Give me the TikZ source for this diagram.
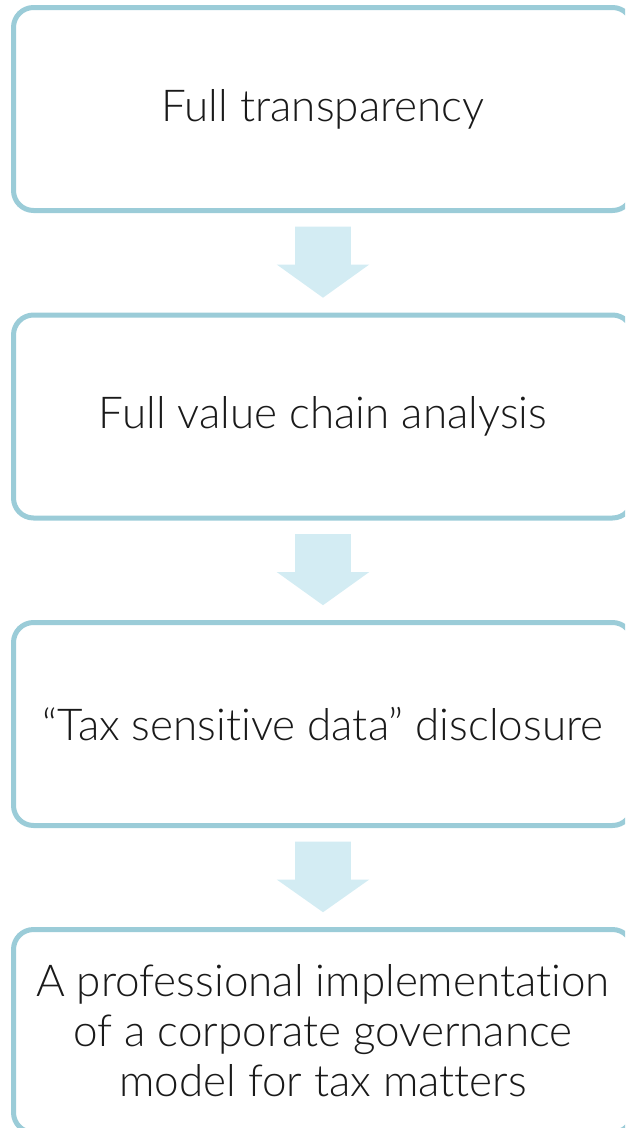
\documentclass[tikz,border=0pt]{standalone}
\usepackage{fontspec}
\setmainfont{Lato Light}[Ligatures={NoCommon,NoRare}]
\usetikzlibrary{calc}
\definecolor{boxline}{HTML}{9BCCD8}
\definecolor{arrowfill}{HTML}{D3ECF3}
\definecolor{txt}{HTML}{1A1A1A}
\tikzset{
  stage/.style={draw=boxline, line width=5pt, rounded corners=20pt, fill=white,
    minimum width=619pt, minimum height=203pt, inner sep=0pt, align=center,
    text=txt, font=\fontsize{44}{50}\selectfont},
  blockarrow/.style={fill=arrowfill, draw=none}
}
\begin{document}
\begin{tikzpicture}[x=1pt,y=-1pt]
\useasboundingbox (0,0) rectangle (625,1128);
\clip (0,0) rectangle (625,1128);
\node[stage] (b1) at (323,109) {Full transparency};
\node[stage] (b2) at (323,416.5) {Full value chain analysis};
\node[stage] (b3) at (323,724) {“Tax sensitive data” disclosure};
\node[stage] (b4) at (323,1031) {A professional implementation\\of a corporate governance\\model for tax matters};
\foreach \a/\b in {b1/b2,b2/b3,b3/b4}{
  \fill[blockarrow] ($(\a.south)+(-27.8,13.5)$) -- ++(55.6,0) -- ++(0,38)
    -- ++(18.5,0) -- ($(\b.north)+(0,-14.8)$) -- ($(\a.south)+(-46.3,51.5)$)
    -- ++(18.5,0) -- cycle;
}
\end{tikzpicture}
\end{document}
